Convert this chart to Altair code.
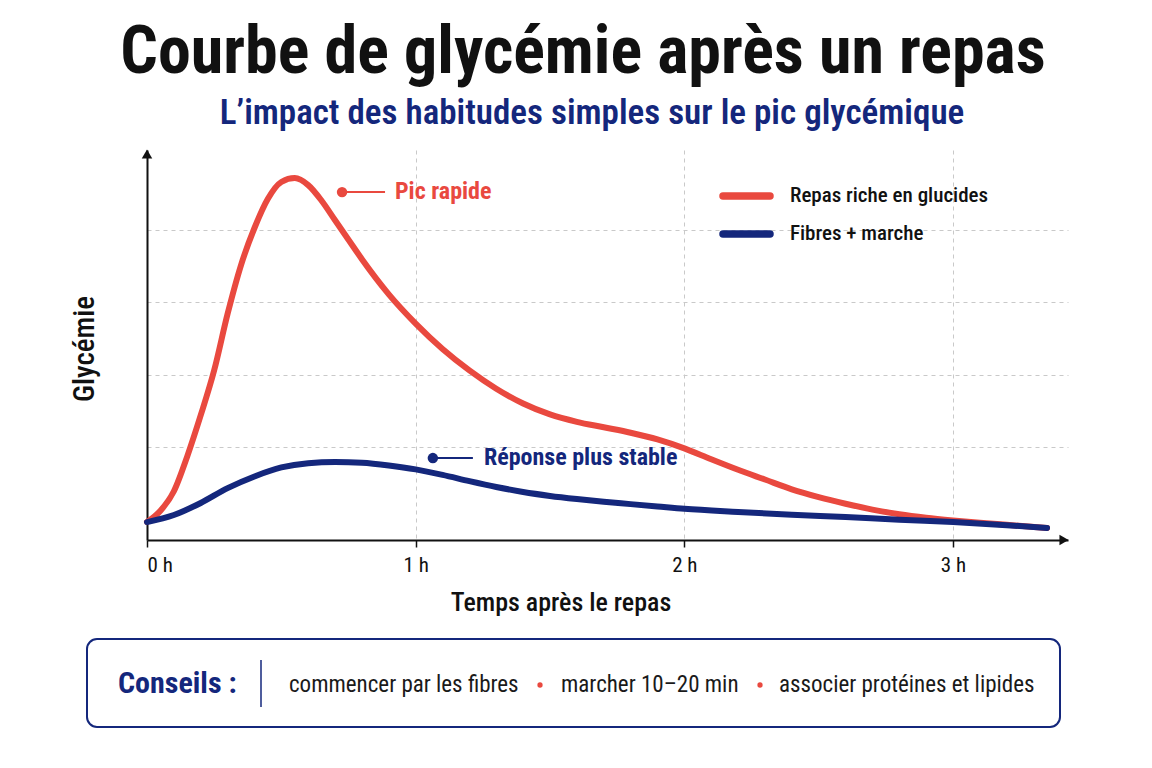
import altair as alt
import pandas as pd

# ---------------- data ----------------
red_t = [0.00, 0.05, 0.10, 0.15, 0.20, 0.25, 0.30, 0.35, 0.40, 0.45, 0.50, 0.55, 0.60, 0.65,
         0.70, 0.75, 0.80, 0.90, 1.00, 1.10, 1.20, 1.30, 1.40, 1.50, 1.60, 1.70, 1.80, 1.90,
         2.00, 2.10, 2.20, 2.30, 2.40, 2.50, 2.60, 2.70, 2.80, 2.90, 3.00, 3.10, 3.20, 3.35]
red_v = [4.6, 7.5, 12.5, 21.5, 32.0, 43.5, 58.0, 70.5, 80.0, 87.5, 91.8, 92.8, 91.0, 87.0,
         82.0, 77.0, 72.0, 63.0, 55.5, 49.0, 43.5, 38.8, 35.0, 32.2, 30.3, 28.9, 27.5, 25.8,
         23.5, 20.7, 18.0, 15.5, 13.0, 11.0, 9.3, 7.8, 6.6, 5.7, 5.0, 4.4, 3.9, 3.1]
blue_t = [0.00, 0.10, 0.20, 0.30, 0.40, 0.50, 0.60, 0.70, 0.80, 0.90, 1.00, 1.10, 1.20, 1.30,
          1.40, 1.50, 1.60, 1.70, 1.80, 1.90, 2.00, 2.20, 2.40, 2.60, 2.80, 3.00, 3.20, 3.35]
blue_v = [4.6, 6.4, 9.5, 13.3, 16.3, 18.6, 19.7, 20.0, 19.8, 19.1, 18.1, 16.7, 15.1, 13.6,
          12.3, 11.3, 10.5, 9.8, 9.2, 8.6, 8.0, 7.2, 6.5, 5.9, 5.2, 4.6, 3.8, 3.1]
series_names = ["Repas riche en glucides", "Fibres + marche"]
x_ticks = [0, 1, 2, 3]
grid_y = [23.8, 42.3, 61.0, 79.5]
tips = ["commencer par les fibres", "marcher 10–20 min", "associer protéines et lipides"]
annot_text = ["Pic rapide", "Réponse plus stable"]
annot_dot_t = [0.726, 1.064]
annot_dot_v = [89.2, 21.0]
annot_end_t = [0.886, 1.213]
annot_txt_t = [0.923, 1.254]

RED = "#e9493f"
NAVY = "#14277c"
FONT = "Roboto Condensed, Liberation Sans Narrow, Arial Narrow, DejaVu Sans Condensed, sans-serif"

W, H = 921, 390

curves = pd.DataFrame(
    {"t": red_t + blue_t,
     "v": red_v + blue_v,
     "serie": [series_names[0]] * len(red_t) + [series_names[1]] * len(blue_t)}
)

xs = alt.Scale(domain=[0, 3.428], nice=False, zero=False)
ys = alt.Scale(domain=[0, 100], nice=False)
color = alt.Color("serie:N", scale=alt.Scale(domain=series_names, range=[RED, NAVY]), legend=None)

base_axes = alt.Chart(curves).mark_line(opacity=0).encode(
    x=alt.X("t:Q", scale=xs,
            axis=alt.Axis(values=x_ticks, labelExpr="datum.value + ' h'", title=None,
                          grid=True, gridDash=[4, 4], gridColor="#c9c9c9", gridWidth=1,
                          domainColor="#111111", domainWidth=2, tickColor="#111111",
                          tickWidth=1.5, tickSize=7, labelFontSize=21, labelFont=FONT,
                          labelColor="#111111", labelPadding=7)),
    y=alt.Y("v:Q", scale=ys,
            axis=alt.Axis(values=grid_y, labels=False, ticks=False, title=None,
                          grid=True, gridDash=[4, 4], gridColor="#c9c9c9", gridWidth=1,
                          domainColor="#111111", domainWidth=2)),
)

lines = alt.Chart(curves).mark_line(strokeWidth=6, interpolate="monotone", strokeCap="round").encode(
    x=alt.X("t:Q", scale=xs), y=alt.Y("v:Q", scale=ys), color=color, detail="serie:N"
)

one = pd.DataFrame({"a": [0]})

def txt(s, x, y, size, color="#111111", weight="normal", align="left", angle=0):
    return alt.Chart(one).mark_text(
        text=s, font=FONT, fontSize=size, fontWeight=weight, color=color,
        align=align, baseline="middle", angle=angle
    ).encode(x=alt.value(x), y=alt.value(y))

# arrows
arrow_up = alt.Chart(one).mark_point(shape="triangle-up", filled=True, color="#111111",
                                     size=110, opacity=1).encode(x=alt.value(0), y=alt.value(4))
arrow_right = alt.Chart(one).mark_point(shape="triangle-right", filled=True, color="#111111",
                                        size=110, opacity=1).encode(x=alt.value(W - 4), y=alt.value(H))

# annotations (data coordinates)
ann = pd.DataFrame({"text": annot_text, "t0": annot_dot_t, "t1": annot_end_t,
                    "tt": annot_txt_t, "v": annot_dot_v, "serie": series_names})
ann_rule = alt.Chart(ann).mark_rule(strokeWidth=2).encode(
    x=alt.X("t0:Q", scale=xs), x2="t1:Q", y=alt.Y("v:Q", scale=ys), color=color)
ann_dot = alt.Chart(ann).mark_circle(size=110, opacity=1).encode(
    x=alt.X("t0:Q", scale=xs), y=alt.Y("v:Q", scale=ys), color=color)
ann_txt = alt.Chart(ann).mark_text(align="left", baseline="middle", font=FONT, fontSize=24,
                                   fontWeight="bold").encode(
    x=alt.X("tt:Q", scale=xs), y=alt.Y("v:Q", scale=ys), text="text:N", color=color)

# legend (manual)
leg = pd.DataFrame({"serie": series_names, "py": [46, 84]})
leg_rule = alt.Chart(leg).mark_rule(strokeWidth=7.5, strokeCap="round").encode(
    x=alt.value(576), x2=alt.value(623), y=alt.Y("py:Q", scale=None), color=color)
leg_txt = alt.Chart(leg).mark_text(align="left", baseline="middle", font=FONT, fontSize=21,
                                   fontWeight=500, color="#111111").encode(
    x=alt.value(643), y=alt.Y("py:Q", scale=None), text="serie:N")

# titles
title = txt("Courbe de glycémie après un repas", 436, -97, 66, weight="bold", align="center")
subtitle = txt("L’impact des habitudes simples sur le pic glycémique", 445, -37, 35,
               color=NAVY, weight=600, align="center")
ytitle = txt("Glycémie", -62, 199, 29, weight=500, align="center", angle=270)
xtitle = txt("Temps après le repas", 414, 453, 26, weight=500, align="center")

# tips box
box = alt.Chart(one).mark_rect(fill="white", stroke=NAVY, strokeWidth=2, cornerRadius=10).encode(
    x=alt.value(-60), x2=alt.value(913), y=alt.value(489), y2=alt.value(577))
sep = alt.Chart(one).mark_rule(color=NAVY, strokeWidth=1.5).encode(
    x=alt.value(114), y=alt.value(510), y2=alt.value(557))
conseils = txt("Conseils :", -29, 534, 30, color=NAVY, weight="bold")
tip_x = [142, 414, 632]
tip_layers = [txt(s, x, 535, 23, color="#1a1a1a") for s, x in zip(tips, tip_x)]
bul = pd.DataFrame({"bx": [393, 613]})
bullets = alt.Chart(bul).mark_circle(size=28, color=RED, opacity=1).encode(
    x=alt.X("bx:Q", scale=None), y=alt.value(535))

chart = alt.layer(
    base_axes, lines, arrow_up, arrow_right, ann_rule, ann_dot, ann_txt, leg_rule, leg_txt,
    title, subtitle, ytitle, xtitle, box, sep, conseils, *tip_layers, bullets
).resolve_scale(color="shared").properties(
    width=W, height=H,
    autosize=alt.AutoSizeParams(type="none"),
    padding={"left": 147, "top": 150, "right": 84, "bottom": 228},
    background="white",
).configure_view(stroke=None)

chart.save("out.html", embed_options={"renderer": "svg", "actions": False})
